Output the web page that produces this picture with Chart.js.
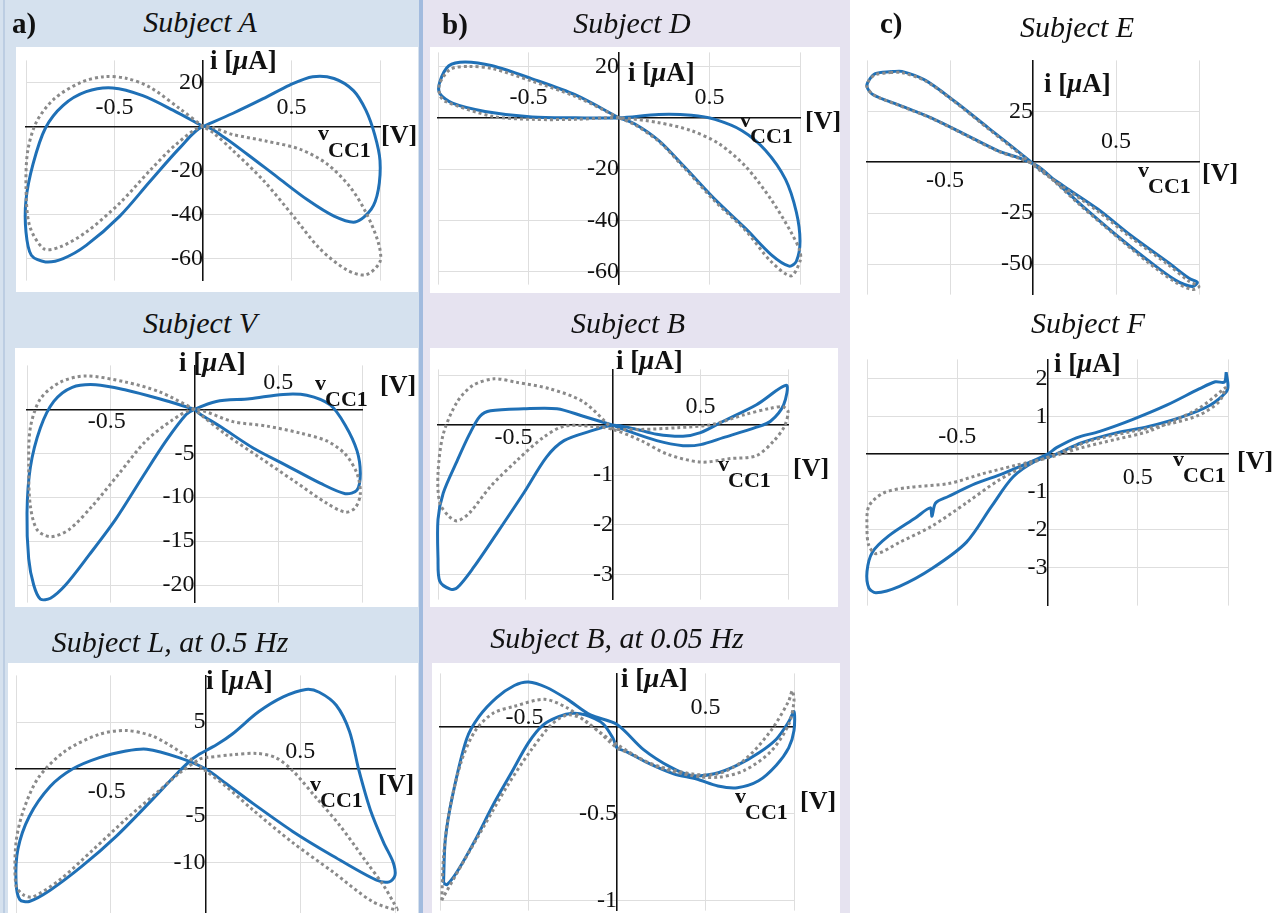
<!DOCTYPE html>
<html>
<head>
<meta charset="utf-8">
<script src="https://cdn.jsdelivr.net/npm/chart.js@4.4.0/dist/chart.umd.min.js"></script>
<style>
    body { margin: 0; width: 1275px; height: 913px; position: relative; overflow: hidden; background: #fff;
           font-family: 'Liberation Serif', 'Times New Roman', serif; }
    .bg { position: absolute; }
    canvas { position: absolute; }
    .t { position: absolute; line-height: 1; white-space: nowrap; color: #111; }
    .title { font-style: italic; }
    .b { font-weight: bold; }
</style>
</head>
<body>
<!-- panel backgrounds -->
<div class="bg" style="left:0;top:0;width:421px;height:913px;background:#d5e1ee"></div>
<div class="bg" style="left:3px;top:0;width:2px;height:913px;background:#bccde2"></div>
<div class="bg" style="left:419px;top:0;width:4px;height:913px;background:#a2bbde"></div>
<div class="bg" style="left:423px;top:0;width:427px;height:913px;background:#e6e3f0"></div>
<!-- white plot boxes -->
<div class="bg" style="left:16px;top:47px;width:402px;height:245px;background:#fff"></div>
<div class="bg" style="left:15px;top:348px;width:403px;height:259px;background:#fff"></div>
<div class="bg" style="left:8px;top:663px;width:410px;height:250px;background:#fff"></div>
<div class="bg" style="left:430px;top:47px;width:410px;height:246px;background:#fff"></div>
<div class="bg" style="left:430px;top:348px;width:408px;height:259px;background:#fff"></div>
<div class="bg" style="left:432px;top:663px;width:408px;height:250px;background:#fff"></div>

<script>
const BLUE = '#1f70b6';
const GRAY = '#8a8a8a';
const GRID = '#dedede';
const FONT = "'Liberation Serif', 'Times New Roman', serif";
const TICK_SIZE = 24;

// shared x axis
const xTicks = [-1, -0.5, 0, 0.5, 1];
const xTickLabels = [-0.5, 0.5];

// Subject A
const aYTicks = [-60, -40, -20, 0, 20];
const aYLabels = [-60, -40, -20, 20];
const aVBlue = [0, 0.17, 0.34, 0.49, 0.62, 0.74, 0.85, 0.92, 0.97, 1.0, 0.99, 0.95, 0.86, 0.74, 0.59, 0.42, 0.25, 0.11, 0, -0.13, -0.30, -0.47, -0.66, -0.79, -0.89, -0.97, -1.0, -1.0, -0.96, -0.89, -0.79, -0.66, -0.51, -0.34, -0.17, 0];
const aIBlue = [0, 6, 12.6, 18.8, 22.6, 21.8, 16.3, 7.4, -3.7, -15.5, -28.9, -37.7, -43.4, -40.7, -33.3, -23, -12.6, -4.4, 0, -9.6, -25, -40.7, -54, -60, -61.5, -58.5, -48, -33.3, -17, -0.7, 9.6, 15.8, 17.5, 14, 7.4, 0];
const aVGray = [0, -0.13, -0.30, -0.43, -0.56, -0.69, -0.84, -0.94, -0.99, -1.0, -0.98, -0.90, -0.81, -0.66, -0.47, -0.30, -0.15, 0, 0.17, 0.36, 0.55, 0.70, 0.83, 0.92, 0.99, 1.0, 0.92, 0.81, 0.66, 0.51, 0.34, 0.17, 0.06, 0];
const aIGray = [0, 8, 17.8, 21.8, 22.6, 20, 12.6, 2.2, -11, -27.4, -45, -55.5, -54.8, -48, -34.8, -20, -8, 0, -3.7, -6.7, -10.4, -17, -27.4, -39, -52.6, -61.4, -67.4, -65, -55.5, -40.7, -24.4, -11, -3, 0];

// Subject D
const dYTicks = [-60, -40, -20, 0, 20];
const dYLabels = [-60, -40, -20, 20];
const dVBlue = [0, -0.24, -0.48, -0.70, -0.85, -0.94, -0.99, -0.99, -0.92, -0.74, -0.48, -0.24, 0, 0.22, 0.40, 0.53, 0.68, 0.81, 0.92, 0.98, 1.0, 0.98, 0.94, 0.84, 0.70, 0.53, 0.36, 0.22, 0.09, 0];
const dIBlue = [0, 8.9, 15.2, 20.3, 21.8, 20.3, 14, 9.5, 5.7, 2.5, 0.3, 0, 0, 1.3, 1.0, -0.6, -5, -12.7, -24, -36.8, -48, -55.9, -57.8, -53.3, -43.2, -31.8, -19, -8.9, -2.5, 0];
const dVGray = [0, -0.24, -0.48, -0.70, -0.83, -0.93, -0.99, -0.99, -0.96, -0.70, -0.48, -0.24, 0, 0.22, 0.40, 0.55, 0.70, 0.84, 0.95, 1.0, 1.0, 0.95, 0.84, 0.70, 0.53, 0.36, 0.22, 0.09, 0];
const dIGray = [0, 8.3, 14.3, 19.2, 20, 19, 13.5, 9, 6.4, 0.6, -0.6, -0.6, 0, -1.9, -5, -10, -19, -31.8, -44.5, -52, -55.9, -61.6, -56, -44, -32.5, -19.5, -9.2, -2.8, 0];

// Subject E
const eYTicks = [-50, -25, 0, 25];
const eYLabels = [-50, -25, 25];
const eVBlue = [-0.85, -0.79, -0.65, -0.47, -0.27, -0.07, 0.05, 0.19, 0.39, 0.59, 0.81, 0.94, 0.99, 0.96, 0.86, 0.69, 0.49, 0.29, 0.13, 0.03, -0.08, -0.21, -0.41, -0.61, -0.81, -0.96, -1.0, -0.99, -0.95, -0.85];
const eIBlue = [44.5, 44.6, 40.3, 29.8, 16.9, 4, -4, -12, -23, -36, -49, -57, -59, -61, -58, -48, -35, -21, -9, -2, 2, 5.6, 13.7, 21.7, 28.2, 33, 37, 40, 43.5, 44.5];
const eVGray = [-0.86, -0.79, -0.65, -0.47, -0.27, -0.07, 0.05, 0.19, 0.39, 0.59, 0.81, 0.94, 1.0, 0.96, 0.86, 0.69, 0.49, 0.29, 0.13, 0.03, -0.08, -0.21, -0.41, -0.61, -0.81, -0.96, -1.0, -0.99, -0.95, -0.86];
const eIGray = [44, 44, 40, 29.5, 16.5, 3.5, -4.5, -12.5, -24, -37, -50, -58.5, -61, -62.5, -59, -49, -35.5, -21.5, -9.5, -2.2, 1.8, 5.4, 13.5, 21.5, 28, 33, 37, 40, 43, 44];

// Subject V
const vYTicks = [-20, -15, -10, -5, 0];
const vYLabels = [-20, -15, -10, -5];
const vVBlue = [0, -0.21, -0.41, -0.59, -0.73, -0.84, -0.92, -0.98, -1.0, -0.99, -0.96, -0.92, -0.86, -0.77, -0.63, -0.47, -0.31, -0.17, -0.05, 0, 0.13, 0.33, 0.53, 0.67, 0.81, 0.90, 0.97, 0.99, 0.97, 0.90, 0.75, 0.55, 0.35, 0.15, 0.03, 0];
const vIBlue = [0, 1.2, 2.2, 2.8, 2.5, 0.9, -2.1, -6.6, -11.8, -17, -20, -21.6, -21.5, -20, -16.6, -12.5, -7.7, -3.6, -0.6, 0, 0.9, 1.2, 1.7, 1.6, 0.5, -1.8, -4.7, -7.3, -9.2, -9.6, -8.4, -6.4, -4.4, -1.9, -0.5, 0];
const vVGray = [0, -0.21, -0.41, -0.65, -0.80, -0.92, -0.98, -0.99, -0.98, -0.94, -0.86, -0.75, -0.61, -0.45, -0.29, -0.13, 0, 0.23, 0.43, 0.63, 0.79, 0.90, 0.97, 0.99, 0.96, 0.90, 0.79, 0.59, 0.39, 0.19, 0.03, 0];
const vIGray = [0, 2.0, 3.1, 3.8, 3.1, 1.2, -2.1, -6.6, -11, -13.7, -14.5, -13.7, -11, -7.3, -3.6, -1.2, 0, -1.4, -1.9, -2.7, -3.6, -5.1, -7.3, -9.6, -11.2, -11.7, -10.7, -8.1, -5.5, -2.9, -0.5, 0];

// Subject B
const bYTicks = [-3, -2, -1, 0, 1];
const bYLabels = [-3, -2, -1];
const bVBlue = [0, -0.17, -0.32, -0.51, -0.70, -0.76, -0.82, -0.89, -0.97, -1.0, -1.0, -0.99, -0.93, -0.89, -0.80, -0.66, -0.51, -0.38, -0.28, -0.13, 0, 0.12, 0.25, 0.40, 0.50, 0.63, 0.82, 0.99, 0.975, 0.90, 0.82, 0.63, 0.50, 0.40, 0.25, 0.06, 0];
const bIBlue = [0, 0.18, 0.33, 0.33, 0.29, 0.18, -0.18, -0.71, -1.36, -1.89, -2.67, -3.13, -3.29, -3.26, -2.87, -2.15, -1.36, -0.64, -0.31, -0.12, 0, -0.07, -0.18, -0.22, -0.15, 0.08, 0.41, 0.80, 0.41, 0.08, -0.04, -0.25, -0.39, -0.41, -0.31, -0.085, 0];
const bVGray = [0, -0.17, -0.36, -0.55, -0.68, -0.80, -0.89, -0.97, -1.0, -0.99, -0.94, -0.89, -0.82, -0.70, -0.55, -0.40, -0.28, -0.13, 0, 0.16, 0.31, 0.50, 0.67, 0.82, 0.92, 0.98, 1.0, 0.97, 0.90, 0.75, 0.56, 0.37, 0.16, 0];
const bIGray = [-0.085, 0.47, 0.73, 0.86, 0.93, 0.80, 0.47, -0.18, -0.97, -1.56, -1.82, -1.92, -1.76, -1.23, -0.71, -0.25, -0.02, -0.02, -0.085, -0.31, -0.58, -0.74, -0.67, -0.61, -0.31, -0.02, 0.28, 0.37, 0.34, 0.21, 0.01, -0.05, -0.085, -0.085];

// Subject F
const fYTicks = [-3, -2, -1, 0, 1, 2];
const fYLabels = [-3, -2, -1, 1, 2];
const fVBlue = [0.99, 0.98, 0.93, 0.84, 0.66, 0.47, 0.29, 0.16, 0.05, 0, -0.10, -0.25, -0.40, -0.55, -0.62, -0.64, -0.65, -0.73, -0.88, -0.97, -1.0, -0.99, -0.95, -0.82, -0.64, -0.45, -0.31, -0.19, -0.06, 0.03, 0.19, 0.38, 0.56, 0.75, 0.90, 0.99, 1.0, 0.99];
const fIBlue = [2.16, 1.9, 1.91, 1.72, 1.29, 0.91, 0.60, 0.43, 0.17, 0, -0.22, -0.52, -0.78, -1.12, -1.29, -1.64, -1.42, -1.68, -2.16, -2.59, -3.10, -3.53, -3.66, -3.49, -3.02, -2.33, -1.38, -0.60, -0.17, -0.04, 0.30, 0.56, 0.73, 0.99, 1.29, 1.64, 1.81, 2.16];
const fVGray = [0.99, 0.84, 0.71, 0.56, 0.38, 0.19, 0.01, -0.18, -0.36, -0.55, -0.77, -0.91, -0.99, -1.0, -0.99, -0.95, -0.82, -0.64, -0.45, -0.27, -0.10, 0.05, 0.23, 0.47, 0.66, 0.84, 0.95, 0.99];
const fIGray = [1.77, 1.21, 0.91, 0.60, 0.39, 0.17, -0.09, -0.30, -0.52, -0.78, -0.88, -1.03, -1.38, -1.98, -2.41, -2.63, -2.33, -1.90, -1.29, -0.69, -0.26, 0, 0.34, 0.60, 0.78, 1.03, 1.38, 1.77];

// Subject L, 0.5 Hz
const lYTicks = [-10, -5, 0, 5];
const lYLabels = [-10, -5, 5];
const lVBlue = [-0.03, 0.06, 0.14, 0.28, 0.41, 0.53, 0.60, 0.69, 0.76, 0.81, 0.87, 0.94, 0.99, 1.0, 0.97, 0.90, 0.67, 0.46, 0.25, 0.11, 0, -0.14, -0.31, -0.42, -0.56, -0.70, -0.82, -0.93, -0.99, -1.0, -0.98, -0.93, -0.82, -0.65, -0.47, -0.30, -0.15, -0.07, -0.03];
const lIBlue = [1.6, 2.6, 3.7, 6.1, 7.7, 8.5, 8.2, 6.8, 4.0, -0.2, -4.4, -7.9, -10, -11.4, -12.1, -11.9, -9.3, -6.7, -3.7, -1.6, 0, 1.2, 2.1, 1.9, 1.2, 0, -1.9, -5.1, -8.6, -12.1, -14, -14.2, -13, -10.4, -7.2, -3.7, -0.5, 1.05, 1.6];
const lVGray = [0, 0.14, 0.27, 0.37, 0.46, 0.58, 0.71, 0.85, 0.94, 1.0, 1.01, 0.88, 0.67, 0.46, 0.25, 0.11, 0, -0.14, -0.28, -0.42, -0.56, -0.74, -0.88, -0.96, -1.0, -1.0, -0.96, -0.91, -0.77, -0.59, -0.42, -0.26, -0.14, -0.03, 0];
const lIGray = [1.2, 1.5, 1.65, 1.2, -0.2, -3.0, -6.1, -10, -12.5, -14.6, -15.1, -14.2, -11, -7.9, -4.4, -1.9, -0.2, 1.9, 3.5, 4.1, 3.7, 1.9, -0.9, -4.4, -7.9, -12.5, -13.5, -13.7, -11.9, -8.6, -5.4, -2.6, -0.5, 1.05, 1.2];

// Subject B, 0.05 Hz
const b2YTicks = [-1, -0.5, 0];
const b2YLabels = [-1, -0.5];
const b2VBlue = [-0.98, -0.97, -0.93, -0.85, -0.78, -0.68, -0.58, -0.50, -0.40, -0.28, -0.15, 0, 0.15, 0.30, 0.42, 0.55, 0.68, 0.80, 0.90, 0.97, 1.0,
                 1.0, 0.97, 0.90, 0.80, 0.68, 0.57, 0.45, 0.32, 0.18, 0.05, 0, -0.02, -0.08, -0.18, -0.25, -0.33, -0.42, -0.50, -0.60, -0.70, -0.80, -0.90, -0.96, -0.98];
const b2IBlue = [-0.90, -0.65, -0.40, -0.07, 0.06, 0.17, 0.24, 0.26, 0.23, 0.16, 0.07, 0.015, -0.13, -0.23, -0.28, -0.27, -0.22, -0.15, -0.07, 0.03, 0.09,
                 -0.02, -0.12, -0.22, -0.31, -0.35, -0.34, -0.30, -0.27, -0.21, -0.14, -0.12, -0.07, 0.02, 0.07, 0.08, 0.06, 0.01, -0.09, -0.27, -0.45, -0.65, -0.83, -0.91, -0.90];
const b2VGray = [-0.99, -0.98, -0.95, -0.88, -0.80, -0.70, -0.58, -0.41, -0.28, -0.18, 0, 0.19, 0.42, 0.57, 0.72, 0.87, 0.97, 0.99,
                 1.0, 0.97, 0.87, 0.72, 0.57, 0.42, 0.23, 0.08, 0, -0.1, -0.2, -0.28, -0.37, -0.49, -0.62, -0.75, -0.88, -0.98, -0.99];
const b2IGray = [-1.0, -0.75, -0.5, -0.2, -0.02, 0.08, 0.12, 0.16, 0.11, 0.034, -0.10, -0.21, -0.27, -0.27, -0.19, -0.02, 0.15, 0.21,
                 0.15, 0.015, -0.14, -0.25, -0.29, -0.28, -0.23, -0.155, -0.12, -0.03, 0.05, 0.07, 0.015, -0.14, -0.34, -0.57, -0.80, -0.98, -1.0];

// layout of each subplot: chart area in page px [left, right, top, bottom], text anchors [x, baseline]
const panels = [
    { title: 'Subject A', yMin: -70, yMax: 30, yTicks: aYTicks, yLabels: aYLabels,
      blue: [aVBlue, aIBlue], gray: [aVGray, aIGray], area: [26, 380, 58, 283],
      titleAt: [200, 32], iAt: [210, 70], vAt: [318, 140], subAt: [328, 157], unitAt: [381, 144],
      xLab: [[0, -12], [0, -12]] },
    { title: 'Subject D', yMin: -65, yMax: 25.5, yTicks: dYTicks, yLabels: dYLabels,
      blue: [dVBlue, dIBlue], gray: [dVGray, dIGray], area: [438, 800, 50, 287],
      titleAt: [632, 33], iAt: [628, 82], vAt: [740, 127], subAt: [750, 143], unitAt: [805, 130],
      xLab: [[0, -14], [0, -14]] },
    { title: 'Subject E', yMin: -65, yMax: 50, yTicks: eYTicks, yLabels: eYLabels,
      blue: [eVBlue, eIBlue], gray: [eVGray, eIGray], area: [867, 1199, 58, 297],
      titleAt: [1077, 37], iAt: [1044, 93], vAt: [1138, 177], subAt: [1148, 193], unitAt: [1202, 182],
      xLab: [[-5, 25], [0, -14]] },
    { title: 'Subject V', yMin: -22, yMax: 5, yTicks: vYTicks, yLabels: vYLabels,
      blue: [vVBlue, vIBlue], gray: [vVGray, vIGray], area: [27, 362, 363, 605],
      titleAt: [200, 333], iAt: [179, 372], vAt: [315, 390], subAt: [325, 406], unitAt: [380, 394],
      xLab: [[-4, 19], [0, -20]] },
    { title: 'Subject B', yMin: -3.5, yMax: 1.12, yTicks: bYTicks, yLabels: bYLabels,
      blue: [bVBlue, bIBlue], gray: [bVGray, bIGray], area: [438, 788, 367, 602],
      titleAt: [628, 333], iAt: [616, 370], vAt: [718, 471], subAt: [728, 487], unitAt: [793, 477],
      xLab: [[-12, 19], [0, -12]] },
    { title: 'Subject F', yMin: -4, yMax: 2.5, yTicks: fYTicks, yLabels: fYLabels,
      blue: [fVBlue, fIBlue], gray: [fVGray, fIGray], area: [867, 1228, 357, 608],
      titleAt: [1088, 333], iAt: [1054, 373], vAt: [1173, 466], subAt: [1183, 482], unitAt: [1237, 470],
      xLab: [[0, -11], [0, 30]] },
    { title: 'Subject L, at 0.5 Hz', yMin: -15.5, yMax: 10, yTicks: lYTicks, yLabels: lYLabels,
      blue: [lVBlue, lIBlue], gray: [lVGray, lIGray], area: [16, 395, 673, 916],
      titleAt: [170, 652], iAt: [206, 690], vAt: [310, 791], subAt: [320, 807], unitAt: [378, 793],
      xLab: [[-4, 29], [0, -11]] },
    { title: 'Subject B, at 0.05 Hz', yMin: -1.06, yMax: 0.31, yTicks: b2YTicks, yLabels: b2YLabels,
      blue: [b2VBlue, b2IBlue], gray: [b2VGray, b2IGray], area: [440, 794, 671, 913],
      titleAt: [617, 648], iAt: [621, 688], vAt: [735, 803], subAt: [745, 819], unitAt: [800, 810],
      xLab: [[-4, -3], [0, -13]] }
];

const tags = [['a)', 12, 33], ['b)', 442, 34], ['c)', 880, 33]];

function toPts(vs, is) {
    const n = Math.min(vs.length, is.length);
    const pts = [];
    for (let k = 0; k < n; k++) pts.push({ x: vs[k], y: is[k] });
    return pts;
}

// text placed by its baseline (line-height 1)
function addText(html, x, base, size, cls, center) {
    const d = document.createElement('div');
    d.className = 't ' + cls;
    d.innerHTML = html;
    d.style.fontSize = size + 'px';
    d.style.left = x + 'px';
    d.style.top = (base - 0.8375 * size) + 'px';
    if (center) d.style.transform = 'translateX(-50%)';
    document.body.appendChild(d);
}

// x tick labels sit above or below the centred axis, as in the figure
const xTickText = {
    id: 'xTickText',
    afterDraw(chart, args, opts) {
        const ctx = chart.ctx;
        const xs = chart.scales.x, ys = chart.scales.y;
        const y0 = ys.getPixelForValue(0);
        ctx.save();
        ctx.font = TICK_SIZE + 'px ' + FONT;
        ctx.fillStyle = '#111';
        ctx.textAlign = 'center';
        ctx.textBaseline = 'alphabetic';
        xTickLabels.forEach((v, k) => {
            const off = opts.offsets[k];
            ctx.fillText(String(v), xs.getPixelForValue(v) + off[0], y0 + off[1]);
        });
        ctx.restore();
    }
};

function makeChart(p) {
    const P = 20;
    const [xl, xr, yt, yb] = p.area;
    const w = (xr - xl) + 2 * P, h = (yb - yt) + 2 * P;
    const c = document.createElement('canvas');
    c.width = w; c.height = h;
    c.style.left = (xl - P) + 'px';
    c.style.top = (yt - P) + 'px';
    c.style.width = w + 'px';
    c.style.height = h + 'px';
    document.body.appendChild(c);

    new Chart(c, {
        type: 'scatter',
        data: {
            datasets: [
                { data: toPts(p.gray[0], p.gray[1]), showLine: true, borderColor: GRAY, borderWidth: 3,
                  borderDash: [3, 3], pointRadius: 0, tension: 0.3, clip: 8 },
                { data: toPts(p.blue[0], p.blue[1]), showLine: true, borderColor: BLUE, borderWidth: 3,
                  pointRadius: 0, tension: 0.3, clip: 8 }
            ]
        },
        options: {
            responsive: false,
            animation: false,
            devicePixelRatio: 1,
            layout: { padding: P },
            elements: { line: { capBezierPoints: false } },
            plugins: { legend: { display: false }, tooltip: { enabled: false }, xTickText: { offsets: p.xLab } },
            scales: {
                x: {
                    type: 'linear', min: -1, max: 1, position: { y: 0 },
                    afterBuildTicks: s => { s.ticks = xTicks.map(v => ({ value: v })); },
                    ticks: { display: false },
                    grid: { color: GRID, lineWidth: 1, drawTicks: false },
                    border: { display: true, color: '#111', width: 1.5 }
                },
                y: {
                    type: 'linear', min: p.yMin, max: p.yMax, position: { x: 0 },
                    afterBuildTicks: s => { s.ticks = p.yTicks.map(v => ({ value: v })); },
                    ticks: {
                        autoSkip: false, padding: 8, color: '#111',
                        font: { family: FONT, size: TICK_SIZE },
                        callback: v => p.yLabels.includes(v) ? String(v) : ''
                    },
                    grid: { color: GRID, lineWidth: 1, drawTicks: false },
                    border: { display: true, color: '#111', width: 1.5 }
                }
            }
        },
        plugins: [xTickText]
    });
}

panels.forEach(makeChart);

panels.forEach(p => {
    addText(p.title, p.titleAt[0], p.titleAt[1], 30, 'title', true);
    addText('i [<i>\u03bc</i>A]', p.iAt[0], p.iAt[1], 27, 'b', false);
    addText('v', p.vAt[0], p.vAt[1], 22, 'b', false);
    addText('CC1', p.subAt[0], p.subAt[1], 22, 'b', false);
    addText('[V]', p.unitAt[0], p.unitAt[1], 26, 'b', false);
});
tags.forEach(t => addText(t[0], t[1], t[2], 29, 'b', false));
</script>
</body>
</html>
